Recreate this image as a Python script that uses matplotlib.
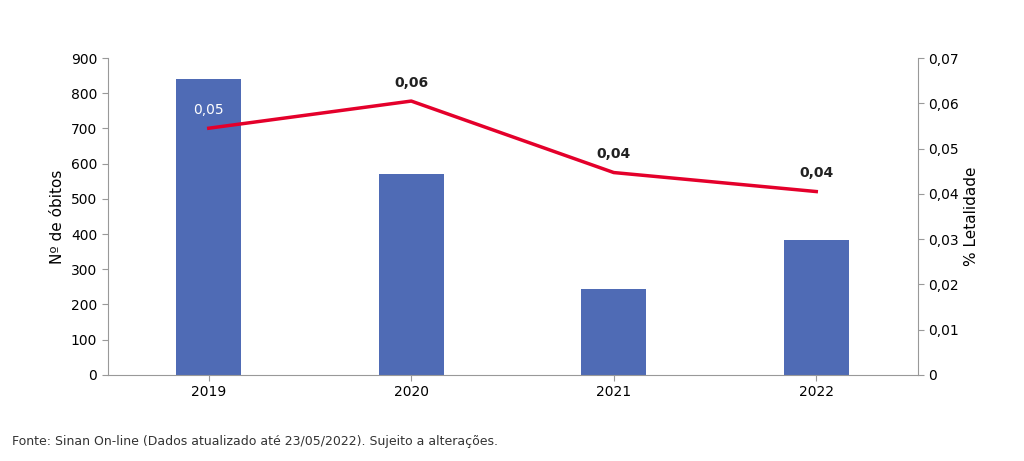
import matplotlib.pyplot as plt
from matplotlib import ticker

years = ['2019', '2020', '2021', '2022']
obitos = [840, 570, 245, 383]
letalidade = [0.0545, 0.0605, 0.0447, 0.0405]
let_labels = ['0,05', '0,06', '0,04', '0,04']

fig = plt.figure(figsize=(10.24, 4.61), dpi=100)
ax = fig.add_axes([0.105, 0.187, 0.791, 0.687])
x = range(len(years))
ax.bar(x, obitos, width=0.32, color='#4F6BB5', zorder=2)
ax.set_ylim(0, 900)
ax.set_xlim(-0.5, 3.5)
ax.set_yticks(range(0, 901, 100))
ax.set_xticks(list(x))
ax.set_xticklabels(years)
ax.set_ylabel('Nº de óbitos', fontsize=11)
for s in ['top', 'right']:
    ax.spines[s].set_visible(False)
for s in ['left', 'bottom']:
    ax.spines[s].set_color('#999999')
ax.tick_params(axis='both', labelsize=10, length=4, color='#999999')

ax2 = ax.twinx()
ax2.plot(list(x), letalidade, color='#E4002B', lw=2.5, zorder=3)
ax2.set_ylim(0, 0.07)
ax2.set_yticks([i / 100 for i in range(8)])
ax2.yaxis.set_major_formatter(ticker.FuncFormatter(lambda v, p: '0' if v == 0 else f'{v:.2f}'.replace('.', ',')))
ax2.set_ylabel('% Letalidade', fontsize=11)
for s in ['top', 'left', 'bottom']:
    ax2.spines[s].set_visible(False)
ax2.spines['right'].set_color('#999999')
ax2.tick_params(axis='y', labelsize=10, length=4, color='#999999')
for i, (v, lab) in enumerate(zip(letalidade, let_labels)):
    ax2.text(i, v + 0.0025, lab, ha='center', va='bottom', fontsize=10,
             color='white' if i == 0 else '#222222', fontweight='normal' if i == 0 else 'bold')

fig.text(0.012, 0.035, 'Fonte: Sinan On-line (Dados atualizado até 23/05/2022). Sujeito a alterações.',
         fontsize=9, color='#333333')
fig.savefig('out.png', dpi=100)
